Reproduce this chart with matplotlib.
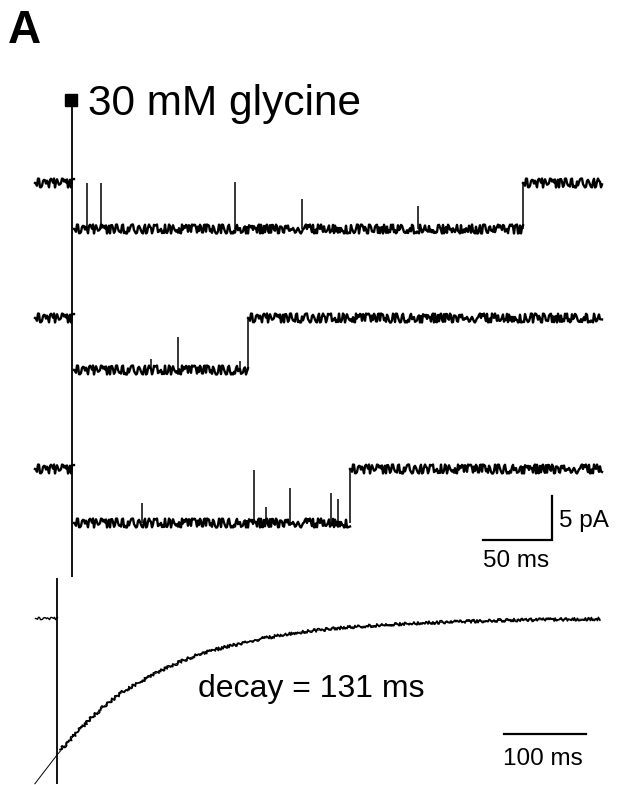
import numpy as np
import matplotlib.pyplot as plt

plt.rcParams["font.family"] = ["Liberation Sans", "DejaVu Sans"]

# ---------------------------------------------------------------------------
# Data
# ---------------------------------------------------------------------------
# single-channel sweeps (time in ms from the glycine pulse, current in pA)
T_START, T_END = -26.8, 384.0
trace_offsets = [0.0, -15.3, -32.5]        # vertical stacking of sweeps
open_levels = [-5.2, -5.9, -6.1]           # open-channel current
t_open = [1.4, 1.4, 1.4]
t_close = [326.8, 127.5, 201.4]
# brief closures: (time, current reached) for each sweep
spike_t = [
    [10.9, 21.0, 118.1, 166.7, 250.7],
    [57.2, 76.8, 121.7],
    [50.7, 131.9, 140.6, 158.0, 187.7, 192.8],
]
spike_i = [
    [0.0, 0.0, 0.1, -1.8, -2.6],
    [-4.7, -2.2, -4.9],
    [-3.9, -0.1, -4.3, -2.2, -2.7, -3.4],
]
artifact_top, artifact_bottom = 9.4, -44.8

# ensemble average (normalised current) and its exponential fit
avg_t = [3.7, 10, 25, 40, 60, 80, 100, 125, 150, 175, 200, 250, 300,
         350, 400, 450, 500, 560, 620, 662]
avg_i = [-0.96, -0.93, -0.83, -0.74, -0.63, -0.54, -0.47, -0.39, -0.32,
         -0.26, -0.22, -0.15, -0.10, -0.07, -0.05, -0.035, -0.025,
         -0.015, -0.01, -0.007]
fit_t = [-27, 0] + avg_t[1:]
fit_i = [-1.21, -1.0] + avg_i[1:]
base_t = [-27, 0]
base_i = [0.0, 0.0]
avg_artifact = (0.29, -1.21)

# ---------------------------------------------------------------------------
# Figure
# ---------------------------------------------------------------------------
fig = plt.figure(figsize=(6.19, 7.85), dpi=100)

# top panel: sweeps, 1.38 px/ms and 8.8 px/pA
ax = fig.add_axes([0, 0, 1, 1])
ax.set_xlim(-72 / 1.38, (619 - 72) / 1.38)
ax.set_ylim((183 - 785) / 8.8, 183 / 8.8)
ax.axis("off")
ax.patch.set_alpha(0)

# recording noise drawn as a sketch style on the flat levels
NOISE = dict(scale=4.5, length=0.8, randomness=40)
for off, lev, to, tc, st, si in zip(trace_offsets, open_levels, t_open,
                                    t_close, spike_t, spike_i):
    segs = [([T_START, to], [off, off]),
            ([to, tc], [off + lev, off + lev]),
            ([tc, T_END], [off, off])]
    for xs, ys in segs:
        ln, = ax.plot(xs, ys, color="black", lw=1.7)
        ln.set_sketch_params(**NOISE)
    ax.vlines(tc, off + lev, off, color="black", lw=1.1)
    ax.vlines(st, off + lev, [off + v for v in si], color="black", lw=1.1)

ax.vlines(0, artifact_bottom, artifact_top, color="black", lw=1.3)
ax.plot([-0.7], [9.4], marker="s", ms=8.5, color="black")
ax.text(11.6, (183 - 115) / 8.8, "30 mM glycine", fontsize=30.5,
        va="baseline", ha="left")

# 5 pA / 50 ms scale bar
ax.plot([297.8, 347.8, 347.8], [-40.57, -40.57, -35.57], color="black",
        lw=1.6, solid_joinstyle="miter")
ax.text(353.0, (183 - 527) / 8.8, "5 pA", fontsize=17.5, va="baseline")
ax.text(297.8, (183 - 567) / 8.8, "50 ms", fontsize=17.5, va="baseline")

# bottom panel: averaged current, 0.82 px/ms, 137 px per unit
ax2 = fig.add_axes([0, 0, 1, 1])
ax2.set_xlim(-57 / 0.82, (619 - 57) / 0.82)
ax2.set_ylim((618 - 785) / 137, 618 / 137)
ax2.axis("off")
ax2.patch.set_alpha(0)

ax2.plot(fit_t, fit_i, color="black", lw=0.7)
ln, = ax2.plot(avg_t, avg_i, color="black", lw=1.2)
ln.set_sketch_params(scale=1.6, length=0.8, randomness=40)
ln, = ax2.plot(base_t, base_i, color="black", lw=1.0)
ln.set_sketch_params(scale=1.2, length=0.8, randomness=40)
ax2.vlines(0, avg_artifact[1], avg_artifact[0], color="black", lw=1.3)

ax2.text((198 - 57) / 0.82, (618 - 697) / 137, "decay = 131 ms",
         fontsize=23, va="baseline")
ax2.plot([(504 - 57) / 0.82, (504 - 57) / 0.82 + 100],
         [(618 - 734) / 137] * 2, color="black", lw=1.6)
ax2.text((503 - 57) / 0.82, (618 - 765) / 137, "100 ms", fontsize=17.5,
         va="baseline")

fig.text(8 / 619, 1 - 43 / 785, "A", fontsize=33, fontweight="bold",
         va="baseline")

fig.savefig("out.png", dpi=100)
